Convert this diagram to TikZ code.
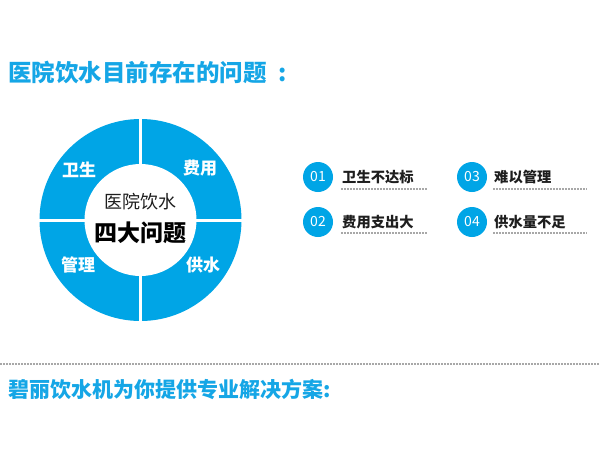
\documentclass[tikz,border=0pt]{standalone}
\usepackage{fontspec}
\setmainfont{Noto Sans CJK SC}
\newfontfamily\cjk{Noto Sans CJK SC}
\definecolor{ringblue}{HTML}{00A5E6}
\definecolor{titleblue}{HTML}{15A6E6}
\definecolor{darktext}{HTML}{1E1E1E}
\definecolor{dashgray}{HTML}{A8A8A8}
\tikzset{
  title/.style={text=titleblue, anchor=west, inner sep=0pt, font=\cjk\bfseries\fontsize{23.5}{23.5}\selectfont},
  seglabel/.style={text=white, inner sep=0pt, font=\cjk\bfseries\fontsize{17}{17}\selectfont},
  numdot/.style={circle, fill=ringblue, minimum size=30pt, inner sep=0pt, text=white, font=\cjk\fontsize{14}{14}\selectfont},
  item/.style={anchor=west, inner sep=0pt, text=darktext, font=\cjk\bfseries\fontsize{14.3}{14.3}\selectfont},
  dashline/.style={dashgray, line width=1.2pt, dash pattern=on 2pt off 1pt},
}
\begin{document}
\begin{tikzpicture}[x=1pt,y=-1pt]
\useasboundingbox[fill=white] (0,0) rectangle (600,450);
% title
\node[title] (t1) at (8,72) {医院饮水目前存在的问题\hspace{12pt}:};
% ring
\coordinate (c) at (140.5,220);
\fill[ringblue] (c) circle (101);
\fill[white] (c) circle (56);
\coordinate (gT) at (140.5,116);
\coordinate (gB) at (140.5,324);
\coordinate (gL) at (37,220);
\coordinate (gR) at (244,220);
\draw[white, line width=3pt] (gT) -- (gB);
\draw[white, line width=3pt] (gL) -- (gR);
\node[seglabel] (s1) at (79,170) {卫生};
\node[seglabel] (s2) at (200,168) {费用};
\node[seglabel] (s3) at (78,265) {管理};
\node[seglabel] (s4) at (203,265) {供水};
\node[inner sep=0pt, text=darktext, font=\cjk\fontsize{18}{18}\selectfont] (cA) at (140.5,202) {医院饮水};
\node[inner sep=0pt, text=black, font=\cjk\bfseries\fontsize{23}{23}\selectfont] (cB) at (140.5,233) {四大问题};
% items
\node[numdot] (n1) at (318,177) {01};
\node[numdot] (n3) at (472,177) {03};
\node[numdot] (n2) at (318,222) {02};
\node[numdot] (n4) at (472,222) {04};
\node[item] (i1) at (342,177) {卫生不达标};
\node[item] (i3) at (494,177) {难以管理};
\node[item] (i2) at (342,222) {费用支出大};
\node[item] (i4) at (494,222) {供水量不足};
\coordinate (d1a) at (341,189); \coordinate (d1b) at (427,189);
\coordinate (d3a) at (493,189); \coordinate (d3b) at (587,189);
\coordinate (d2a) at (341,233); \coordinate (d2b) at (427,233);
\coordinate (d4a) at (493,233); \coordinate (d4b) at (587,233);
\draw[dashline] (d1a) -- (d1b);
\draw[dashline] (d3a) -- (d3b);
\draw[dashline] (d2a) -- (d2b);
\draw[dashline] (d4a) -- (d4b);
% bottom
\coordinate (bl) at (0,364); \coordinate (br) at (600,364);
\draw[dashline] (bl) -- (br);
\node[title, font=\cjk\bfseries\fontsize{21}{21}\selectfont] (t2) at (8,389) {碧丽饮水机为你提供专业解决方案:};
\end{tikzpicture}
\end{document}
